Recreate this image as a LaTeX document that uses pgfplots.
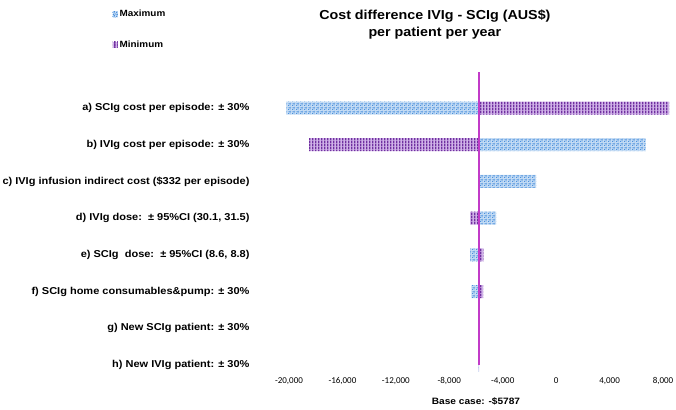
\documentclass[border=0pt]{standalone}
\usepackage{pgfplots}
\pgfplotsset{compat=1.18}
\usepackage{fontspec}
\setmainfont{Liberation Sans}[FakeStretch=1.1]
\newfontfamily\carlito{Carlito}
\usetikzlibrary{patterns.meta}

\definecolor{dotblue}{HTML}{4A90DC}
\definecolor{paleblue}{HTML}{C6DDF5}
\definecolor{minpurple}{HTML}{7030A0}
\definecolor{palepurple}{HTML}{D0B2E8}
\definecolor{baseclr}{HTML}{C23BC8}

% confetti-like dots for the "Maximum" bars
\tikzdeclarepattern{
  name=confetti,
  type=uncolored,
  bounding box={(0pt,0pt) and (4pt,4pt)},
  tile size={(4pt,4pt)},
  code={
    \fill (0pt,0pt) rectangle (1.3pt,1.3pt);
    \fill (2pt,0.8pt) rectangle (3.3pt,2.1pt);
    \fill (0.7pt,2.4pt) rectangle (2pt,3.7pt);
    \fill (2.8pt,2.9pt) rectangle (4pt,4pt);
  }
}
% dense vertical stripes for the "Minimum" bars
\tikzdeclarepattern{
  name=vstripes,
  type=uncolored,
  bounding box={(0pt,0pt) and (3pt,3pt)},
  tile size={(3pt,3pt)},
  code={\fill (0pt,0pt) rectangle (1.7pt,3pt);}
}

\tikzset{
  maxstyle/.style={draw=none, fill=paleblue, postaction={pattern={confetti}, pattern color=dotblue}},
  minstyle/.style={draw=none, fill=palepurple, postaction={pattern={vstripes}, pattern color=minpurple}},
}

% bars grow from the base case, so the x axis is measured from it
\def\basecase{-5787}
\pgfplotsset{
  base shift/.style={
    x coord trafo/.code={\begingroup\pgfkeys{/pgf/fpu=true,/pgf/fpu/output format=fixed}%
      \pgfmathparse{##1-(\basecase)}\pgfmathsmuggle\pgfmathresult\endgroup},
    x coord inv trafo/.code={\begingroup\pgfkeys{/pgf/fpu=true,/pgf/fpu/output format=fixed}%
      \pgfmathparse{##1+(\basecase)}\pgfmathsmuggle\pgfmathresult\endgroup},
  },
}

% one-way sensitivity results (AUS$), row 8 = a) ... row 1 = h)
\pgfplotstableread{
row maximum minimum
8  -20200   8450
7    6700 -18500
6   -1500  -5787
5   -4500  -6440
4   -6440  -5440
3   -6340  -5460
2   -5800  -5775
1   -5800  -5775
}\tornado

\begin{document}
\begin{tikzpicture}
\useasboundingbox (0,0) rectangle (676pt,409pt);
\begin{axis}[
  at={(289pt,44pt)}, anchor=south west,
  scale only axis, width=374pt, height=293.7pt,
  clip=false,
  base shift,
  xmin=-20000, xmax=8000, ymin=1, ymax=9,
  axis lines*=left, axis line style={draw=none},
  major tick style={draw=none},
  scaled x ticks=false,
  xtick={-20000,-16000,-12000,-8000,-4000,0,4000,8000},
  xticklabels={{-20,000},{-16,000},{-12,000},{-8,000},{-4,000},0,{4,000},{8,000}},
  xticklabel style={font=\carlito\fontsize{9}{10}\selectfont, yshift=-9pt},
  ytick={1,...,8},
  yticklabels={
    h) New IVIg patient: ± 30\%,
    g) New SCIg patient: ± 30\%,
    f) SCIg home consumables\&pump: ± 30\%,
    {e) SCIg\ \ dose:\ \ ± 95\%CI (8.6, 8.8)},
    {d) IVIg dose:\ \ ± 95\%CI (30.1, 31.5)},
    c) IVIg infusion indirect cost (\$332 per episode),
    b) IVIg cost per episode: ± 30\%,
    a) SCIg cost per episode: ± 30\%},
  yticklabel style={font=\bfseries\fontsize{10}{12}\selectfont, anchor=east, xshift=-36pt},
  xlabel={Base case: -\$5787},
  xlabel style={font=\bfseries\fontsize{9.2}{11}\selectfont, yshift=-6pt},
  title={Cost difference IVIg - SCIg (AUS\$)\\per patient per year},
  title style={at={(axis description cs:0.39,1.20)}, anchor=north, align=center,
    font=\bfseries\fontsize{13}{17}\selectfont},
  legend style={at={(axis description cs:-0.472,1.215)}, anchor=north west,
    draw=none, fill=none, font=\bfseries\fontsize{9}{10}\selectfont,
    row sep=18.5pt, inner sep=0pt},
  legend cell align=left,
]
\addplot[xbar, bar width=13pt, bar shift=0pt, maxstyle,
  legend image code/.code={\path[maxstyle] (0pt,-3pt) rectangle (5pt,3pt);}]
  table[x=maximum, y=row] {\tornado};
\addlegendentry{Maximum}
\addplot[xbar, bar width=13pt, bar shift=0pt, minstyle,
  legend image code/.code={\path[minstyle] (0pt,-3pt) rectangle (5pt,3pt);}]
  table[x=minimum, y=row] {\tornado};
\addlegendentry{Minimum}
% base case reference line
\addplot[baseclr, line width=1.3pt, forget plot] coordinates {(-5787,1) (-5787,8.98)};
\end{axis}
\end{tikzpicture}
\end{document}
